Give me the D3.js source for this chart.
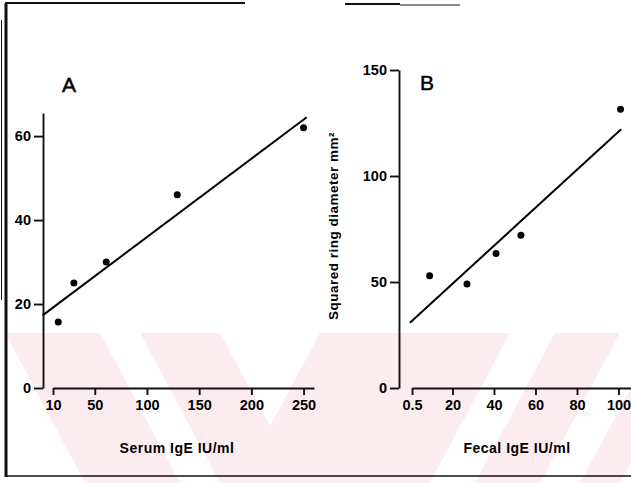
<!DOCTYPE html>
<html>
<head>
<meta charset="utf-8">
<script src="https://cdn.jsdelivr.net/npm/d3@7"></script>
<style>
  body { margin: 0; background: #fff; }
  svg { display: block; }
  text { font-family: "Liberation Sans", Arial, sans-serif; fill: #000; }
  .axis path, .axis line { stroke: #111; stroke-width: 1.9; }
  .axis text { font-size: 14.5px; font-weight: bold; fill: #000; font-family: "Liberation Sans", Arial, sans-serif; }
</style>
</head>
<body>
<script>
//Two panel scatter plot: ring diameter vs serum IgE (A) and fecal IgE (B)

//Declares global variables
var W = 631;
var H = 483;

//Panel A data
var serumIgE = [15, 30, 61, 129, 250];
var ringA = [15.7, 25, 30, 46, 62];
var fitA = [[0, 17.3], [253, 64.5]];
var ticksAX = [10, 50, 100, 150, 200, 250];
var ticksAY = [0, 20, 40, 60];

//Panel B data
var fecalIgE = [9, 27, 41, 53, 101];
var ringB = [53, 49, 63.5, 72, 131.5];
var fitB = [[-0.5, 30.8], [101.3, 122]];
var ticksBX = [0.5, 20, 40, 60, 80, 100];
var ticksBY = [0, 50, 100, 150];

function main() {
  var svg = d3.select("body")
    .append("svg")
    .attr("width", W)
    .attr("height", H);

  drawWatermark(svg);
  drawFrame(svg);

  //Panel A scales
  var xA = d3.scaleLinear().domain([10, 260]).range([53, 314]);
  var yA = d3.scaleLinear().domain([0, 65.5]).range([388, 113]);
  //Panel B scales
  var xB = d3.scaleLinear().domain([0.5, 107]).range([412, 633]);
  var yB = d3.scaleLinear().domain([0, 150]).range([388, 70]);

  panel(svg, xA, yA, 43, ticksAX, ticksAY, serumIgE, ringA, fitA);
  panel(svg, xB, yB, 399, ticksBX, ticksBY, fecalIgE, ringB, fitB);

  //Panel letters
  svg.append("text").attr("x", 62).attr("y", 92)
    .style("font-size", "21px").style("stroke", "#000").style("stroke-width", 0.5)
    .text("A");
  svg.append("text").attr("x", 420).attr("y", 90)
    .style("font-size", "21px").style("stroke", "#000").style("stroke-width", 0.5)
    .text("B");

  //Axis titles
  svg.append("text").attr("x", 177).attr("y", 453)
    .attr("text-anchor", "middle")
    .style("font-size", "14px").style("font-weight", "bold")
    .style("letter-spacing", "0.5px")
    .text("Serum IgE IU/ml");
  svg.append("text").attr("x", 517).attr("y", 453)
    .attr("text-anchor", "middle")
    .style("font-size", "14px").style("font-weight", "bold")
    .style("letter-spacing", "0.5px")
    .text("Fecal IgE IU/ml");
  svg.append("text")
    .attr("transform", "translate(338,226) rotate(-90)")
    .attr("text-anchor", "middle")
    .style("font-size", "13.5px").style("font-weight", "bold")
    .style("letter-spacing", "0.5px")
    .text("Squared ring diameter mm²");
}

function panel(svg, x, y, yAxisX, xTicks, yTicks, xs, ys, fit) {
  //Draws the axes, points and fitted line of one panel
  svg.append("g")
    .attr("class", "axis")
    .attr("transform", "translate(0," + y(0) + ")")
    .call(d3.axisBottom(x).tickValues(xTicks).tickSize(7)
      .tickSizeOuter(0).tickPadding(5).tickFormat(function(d) { return String(d); }));

  svg.append("g")
    .attr("class", "axis")
    .attr("transform", "translate(" + yAxisX + ",0)")
    .call(d3.axisLeft(y).tickValues(yTicks).tickSize(9)
      .tickSizeOuter(0).tickPadding(3));

  svg.selectAll(null)
    .data(xs)
    .enter()
    .append("circle")
    .attr("cx", function(d) { return x(d); })
    .attr("cy", function(d, i) { return y(ys[i]); })
    .attr("r", 3.5)
    .attr("fill", "#000");

  svg.append("path")
    .datum(fit)
    .attr("d", d3.line()
      .x(function(d) { return x(d[0]); })
      .y(function(d) { return y(d[1]); }))
    .attr("fill", "none")
    .attr("stroke", "#000")
    .attr("stroke-width", 2);
}

function drawFrame(svg) {
  //Scanned page border
  var segs = [
    [[6, 3], [6, 477], 3],
    [[1.5, 20], [1.5, 300], 1],
    [[5, 3], [245, 3], 2],
    [[345, 4], [400, 4], 2],
    [[400, 5], [460, 5], 1],
    [[5, 476], [631, 476], 1.6]
  ];
  svg.selectAll(null)
    .data(segs)
    .enter()
    .append("line")
    .attr("x1", function(d) { return d[0][0]; })
    .attr("y1", function(d) { return d[0][1]; })
    .attr("x2", function(d) { return d[1][0]; })
    .attr("y2", function(d) { return d[1][1]; })
    .attr("stroke", "#111")
    .attr("stroke-width", function(d) { return d[2]; });
}

function drawWatermark(svg) {
  //Faint pink diagonal bands across the bottom of the page
  var top = 333, bot = 483;
  var bands = [
    [[5, top], [100, top], [180, bot], [85, bot]],
    [[140, top], [220, top], [270, 426], [320, top], [510, top], [430, bot], [220, bot]],
    [[555, top], [620, top], [540, bot], [475, bot]],
    [[660, top], [700, top], [620, bot], [580, bot]]
  ];
  svg.selectAll(null)
    .data(bands)
    .enter()
    .append("path")
    .attr("d", function(d) { return "M" + d.join("L") + "Z"; })
    .attr("fill", "#fdecef");
}

main();
</script>
</body>
</html>
